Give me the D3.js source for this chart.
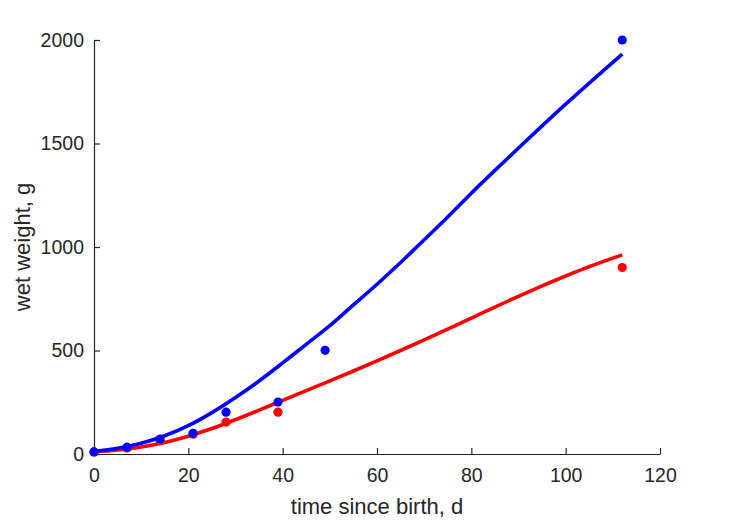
<!DOCTYPE html>
<html>
<head>
<meta charset="utf-8">
<script src="https://cdn.jsdelivr.net/npm/d3@7"></script>
<style>
  html, body { margin: 0; padding: 0; background: #fff; }
  svg { display: block; }
  text { font-family: "Liberation Sans", Arial, Helvetica, sans-serif; fill: #262626; }
</style>
</head>
<body>
<svg id="chart" width="729" height="521"></svg>
<script>
// observed data
const blueTimes = [0, 7, 14, 21, 28, 39, 49, 112];
const blueWeights = [10, 33, 72, 100, 202, 251, 501, 2000];
const redTimes = [0, 7, 14, 21, 28, 39, 112];
const redWeights = [10, 29, 64, 96, 154, 202, 901];

// fitted curves
const fitTimes = [0, 5, 10, 15, 20, 25, 30, 35, 40, 45, 50, 55, 60, 65, 70, 75, 80, 85, 90, 95, 100, 105, 112];
const blueFit = [12, 28, 52, 88, 137, 200, 273, 353, 440, 530, 620, 720, 820, 925, 1035, 1145, 1260, 1370, 1478, 1585, 1690, 1792, 1932];
const redFit = [10, 19, 34, 56, 86, 123, 166, 212, 259, 306, 353, 401, 450, 500, 551, 603, 656, 710, 762, 812, 860, 905, 962];

const xTicks = [0, 20, 40, 60, 80, 100, 120];
const yTicks = [0, 500, 1000, 1500, 2000];

const margin = { left: 94, right: 69, top: 40, bottom: 67 };
const W = 729, H = 521;
const svg = d3.select("#chart");

const x = d3.scaleLinear().domain([0, 120]).range([margin.left, W - margin.right]);
const y = d3.scaleLinear().domain([0, 2000]).range([H - margin.bottom, margin.top]);

const axisColor = "#262626";
const tickFont = 19.5, labelFont = 22;

// x axis
const gx = svg.append("g")
  .attr("transform", `translate(0,${H - margin.bottom})`)
  .call(d3.axisBottom(x).tickValues(xTicks).tickFormat(d3.format("d"))
    .tickSizeInner(-6).tickSizeOuter(0).tickPadding(14));
// y axis
const gy = svg.append("g")
  .attr("transform", `translate(${margin.left},0)`)
  .call(d3.axisLeft(y).tickValues(yTicks).tickFormat(d3.format("d"))
    .tickSizeInner(-6).tickSizeOuter(0).tickPadding(10));

[gx, gy].forEach(g => {
  g.attr("font-size", tickFont).attr("font-family", '"Liberation Sans", Arial, sans-serif');
  g.select(".domain").attr("stroke", axisColor).attr("stroke-width", 1.2);
  g.selectAll(".tick line").attr("stroke", axisColor).attr("stroke-width", 1.2);
  g.selectAll(".tick text").attr("fill", axisColor);
});

// axis labels
svg.append("text")
  .attr("x", (margin.left + W - margin.right) / 2)
  .attr("y", 514)
  .attr("text-anchor", "middle")
  .attr("font-size", labelFont)
  .text("time since birth, d");

svg.append("text")
  .attr("transform", `translate(30,${(margin.top + H - margin.bottom) / 2}) rotate(-90)`)
  .attr("text-anchor", "middle")
  .attr("font-size", labelFont)
  .text("wet weight, g");

const line = d3.line().curve(d3.curveCatmullRom.alpha(0.5)).x(d => x(d[0])).y(d => y(d[1]));

svg.append("path")
  .datum(fitTimes.map((t, i) => [t, redFit[i]]))
  .attr("d", line).attr("fill", "none").attr("stroke", "#ff0000").attr("stroke-width", 3.6);

svg.append("path")
  .datum(fitTimes.map((t, i) => [t, blueFit[i]]))
  .attr("d", line).attr("fill", "none").attr("stroke", "#0000ff").attr("stroke-width", 3.6);

svg.append("g").selectAll("circle")
  .data(redTimes.map((t, i) => [t, redWeights[i]]))
  .join("circle")
  .attr("cx", d => x(d[0])).attr("cy", d => y(d[1])).attr("r", 4.6).attr("fill", "#ff0000");

svg.append("g").selectAll("circle")
  .data(blueTimes.map((t, i) => [t, blueWeights[i]]))
  .join("circle")
  .attr("cx", d => x(d[0])).attr("cy", d => y(d[1])).attr("r", 4.6).attr("fill", "#0000ff");
</script>
</body>
</html>
